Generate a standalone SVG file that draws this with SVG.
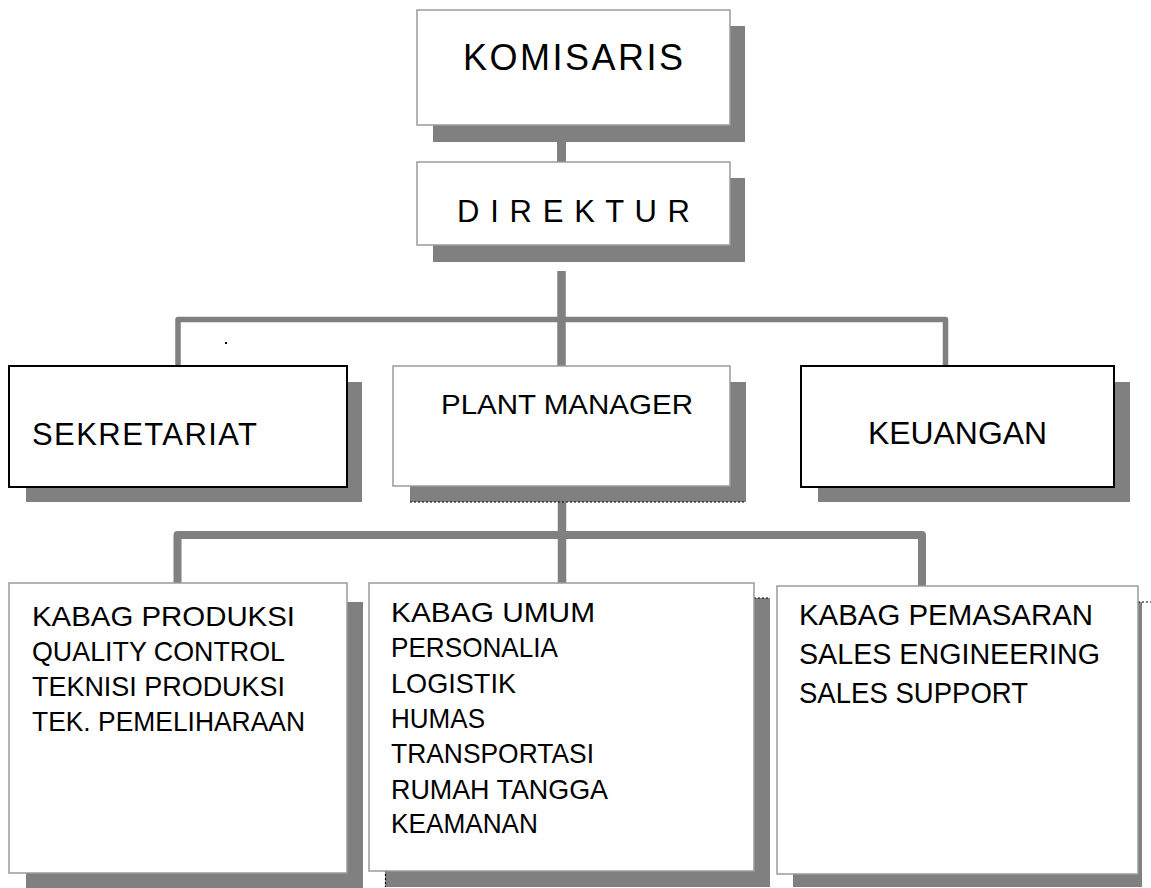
<svg xmlns="http://www.w3.org/2000/svg" width="1151" height="888" viewBox="0 0 1151 888">
<style>
.shadow{fill:#808080}
.box{fill:#fff;stroke:#9a9a9a;stroke-width:1.5}
.boxb{fill:#fff;stroke:#000;stroke-width:2}
.t{font-family:"Liberation Sans",Arial,sans-serif;fill:#000}
.conn{fill:none;stroke:#808080;stroke-linejoin:round}
.dot{fill:none;stroke:#000;stroke-width:1.2;stroke-dasharray:2 2}
</style>
<rect width="1151" height="888" fill="#fff"/>
<g id="connectors">
  <line class="conn" x1="561.5" y1="140" x2="561.5" y2="164" stroke-width="9"/>
  <path class="conn" d="M178 366 V319.5 H945.5 V366" stroke-width="5.5"/>
  <line class="conn" x1="561.5" y1="271" x2="561.5" y2="366" stroke-width="8.5"/>
  <path class="conn" d="M177.5 583 V535 H922 V586" stroke-width="8"/>
  <line class="conn" x1="562" y1="500" x2="562" y2="583" stroke-width="8.5"/>
</g>
<g id="komisaris">
  <rect class="shadow" x="433" y="26" width="312" height="116"/>
  <rect class="box" x="417" y="10" width="313" height="115"/>
  <text class="t" x="463" y="70" font-size="36" textLength="220" lengthAdjust="spacing">KOMISARIS</text>
</g>
<g id="direktur">
  <rect class="shadow" x="433" y="178" width="312" height="84"/>
  <rect class="box" x="417" y="162" width="313" height="83"/>
  <text class="t" x="457" y="222" font-size="31" textLength="233" lengthAdjust="spacing">D I R E K T U R</text>
</g>
<g id="sekretariat">
  <rect class="shadow" x="26" y="382" width="336" height="120"/>
  <rect class="boxb" x="9" y="366" width="338" height="121"/>
  <text class="t" x="32" y="445" font-size="31" textLength="225" lengthAdjust="spacing">SEKRETARIAT</text>
</g>
<rect x="225" y="342" width="2" height="2" fill="#000"/>
<g id="plant-manager">
  <rect class="shadow" x="410" y="382" width="336" height="120"/>
  <line class="dot" x1="410" y1="502" x2="746" y2="502"/>
  <rect class="box" x="393" y="366" width="337" height="120"/>
  <text class="t" x="441" y="414" font-size="28.5" textLength="252" lengthAdjust="spacingAndGlyphs">PLANT MANAGER</text>
</g>
<g id="keuangan">
  <rect class="shadow" x="818" y="382" width="312" height="120"/>
  <rect class="boxb" x="801" y="366" width="313" height="121"/>
  <text class="t" x="868" y="444" font-size="31" textLength="179" lengthAdjust="spacingAndGlyphs">KEUANGAN</text>
</g>
<g id="kabag-produksi">
  <rect class="shadow" x="26" y="602" width="337" height="286"/>
  <rect class="box" x="9" y="583" width="338" height="290"/>
  <g class="t" font-size="27.5">
    <text x="32" y="626" textLength="263" lengthAdjust="spacingAndGlyphs">KABAG PRODUKSI</text>
    <text x="32" y="661" textLength="253" lengthAdjust="spacingAndGlyphs">QUALITY CONTROL</text>
    <text x="32" y="696" textLength="253" lengthAdjust="spacingAndGlyphs">TEKNISI PRODUKSI</text>
    <text x="32" y="731" textLength="273" lengthAdjust="spacingAndGlyphs">TEK. PEMELIHARAAN</text>
  </g>
</g>
<g id="kabag-umum">
  <rect class="shadow" x="385" y="598" width="385" height="289"/>
  <line class="dot" x1="385.5" y1="870" x2="385.5" y2="887"/>
  <line class="dot" x1="754" y1="598" x2="770" y2="598"/>
  <rect class="box" x="369" y="583" width="385" height="288"/>
  <g class="t" font-size="27.5">
    <text x="391" y="622" textLength="204" lengthAdjust="spacingAndGlyphs">KABAG UMUM</text>
    <text x="391" y="657" textLength="167" lengthAdjust="spacingAndGlyphs">PERSONALIA</text>
    <text x="391" y="693" textLength="125" lengthAdjust="spacingAndGlyphs">LOGISTIK</text>
    <text x="391" y="728" textLength="94" lengthAdjust="spacingAndGlyphs">HUMAS</text>
    <text x="391" y="763" textLength="203" lengthAdjust="spacingAndGlyphs">TRANSPORTASI</text>
    <text x="391" y="799" textLength="217" lengthAdjust="spacingAndGlyphs">RUMAH TANGGA</text>
    <text x="391" y="833" textLength="147" lengthAdjust="spacingAndGlyphs">KEAMANAN</text>
  </g>
</g>
<g id="kabag-pemasaran">
  <rect class="shadow" x="793" y="602" width="349" height="285"/>
  <line class="dot" x1="1138" y1="602" x2="1151" y2="602"/>
  <rect class="box" x="777" y="586" width="361" height="288"/>
  <g class="t" font-size="29">
    <text x="799" y="625" textLength="294" lengthAdjust="spacingAndGlyphs">KABAG PEMASARAN</text>
    <text x="799" y="664" textLength="301" lengthAdjust="spacingAndGlyphs">SALES ENGINEERING</text>
    <text x="799" y="703" textLength="229" lengthAdjust="spacingAndGlyphs">SALES SUPPORT</text>
  </g>
</g>
</svg>
